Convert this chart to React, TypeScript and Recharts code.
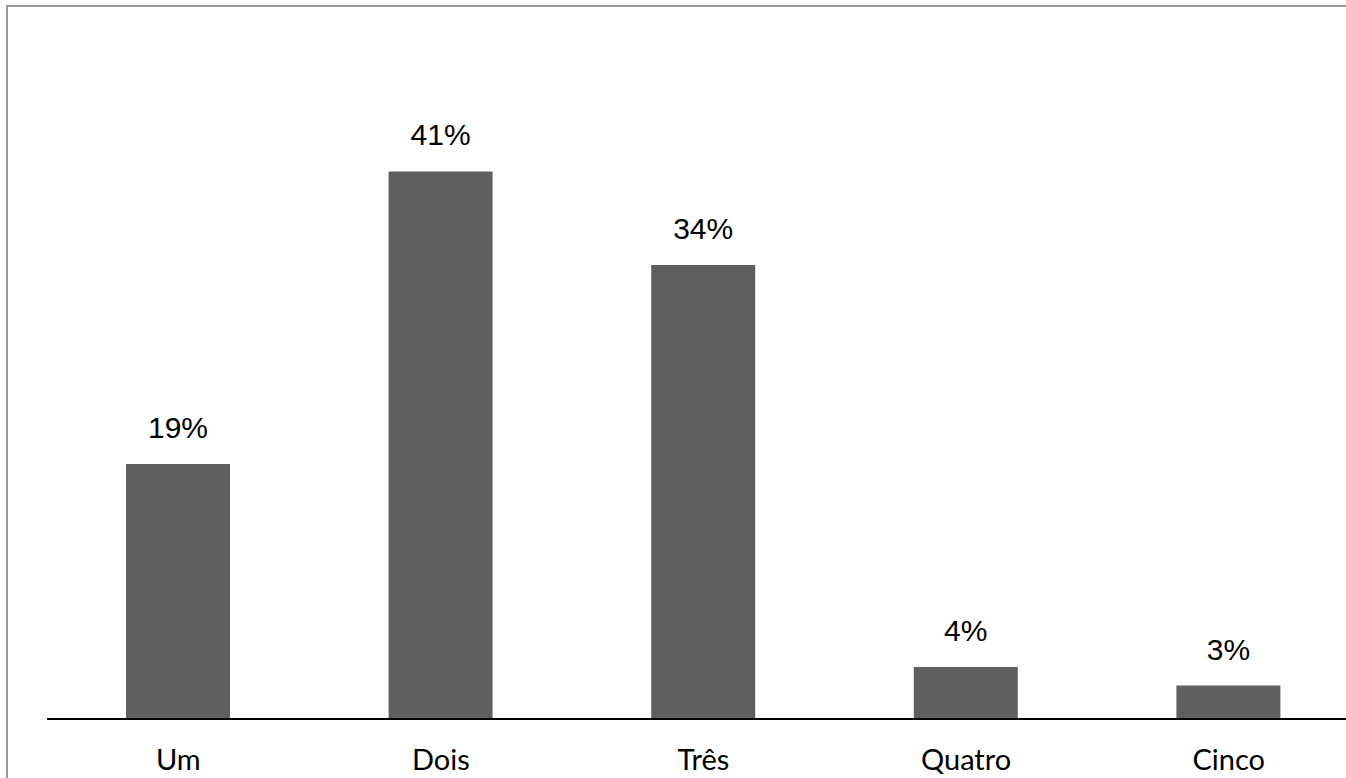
import { BarChart, Bar, XAxis, YAxis, LabelList } from 'recharts';

const categories = ['Um', 'Dois', 'Três', 'Quatro', 'Cinco'];
const shares = [19.1, 41, 34, 3.9, 2.5];
const shareLabels = ['19%', '41%', '34%', '4%', '3%'];

const chartData = categories.map((name, i) => ({
  name,
  share: shares[i],
  label: shareLabels[i],
}));

export default function App() {
  return (
    <div
      style={{
        position: 'absolute',
        left: 0,
        top: 0,
        width: 1346,
        height: 778,
        overflow: 'hidden',
        background: '#fff',
      }}
    >
      <div
        style={{
          position: 'absolute',
          left: 6,
          top: 5,
          width: 1400,
          height: 800,
          border: '2px solid #9a9a9a',
        }}
      />
      <div style={{ position: 'absolute', left: 0, top: 0 }}>
        <BarChart
          width={1400}
          height={778}
          data={chartData}
          margin={{ top: 118, right: 40, bottom: 0, left: 47 }}
        >
          <YAxis hide domain={[0, 45]} />
          <XAxis
            dataKey="name"
            axisLine={{ stroke: '#000', strokeWidth: 2 }}
            tickLine={false}
            tickSize={0}
            tickMargin={30}
            height={59}
            tick={{ fill: '#000', fontSize: 29, fontFamily: 'Lato, sans-serif' }}
          />
          <Bar dataKey="share" fill="#5f5f5f" barSize={104} isAnimationActive={false}>
            <LabelList
              dataKey="label"
              position="top"
              offset={26}
              fill="#000"
              fontSize={30}
              fontFamily="'Liberation Sans', Arial, sans-serif"
            />
          </Bar>
        </BarChart>
      </div>
    </div>
  );
}
